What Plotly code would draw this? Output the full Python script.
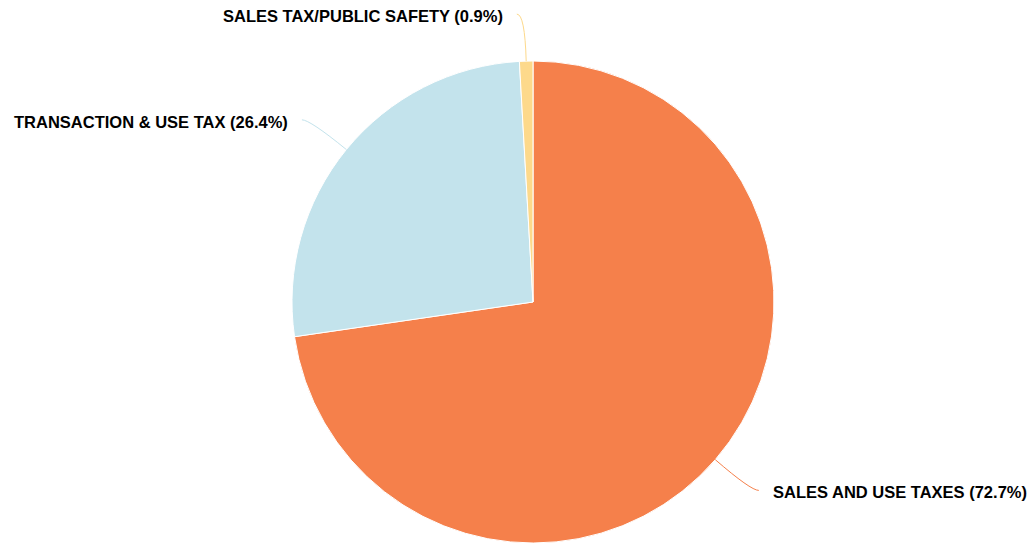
import math
import plotly.graph_objects as go

# Revenue shares by tax category
categories = ["SALES AND USE TAXES", "TRANSACTION & USE TAX", "SALES TAX/PUBLIC SAFETY"]
shares = [72.7, 26.4, 0.9]
colors = ["#F5804B", "#C3E3EC", "#FDD98B"]

W, H = 1034, 543
cx, cy, r = 533, 302, 241  # pie centre (px from top-left) and radius

fig = go.Figure(go.Pie(
    labels=categories,
    values=shares,
    sort=False,
    direction="clockwise",
    rotation=0,
    marker=dict(colors=colors, line=dict(color="#FFFFFF", width=1)),
    textinfo="none",
    hoverinfo="label+percent",
    domain=dict(x=[(cx - r) / W, (cx + r) / W], y=[(H - cy - r) / H, (H - cy + r) / H]),
    showlegend=False,
))

shapes, annotations = [], []
total = sum(shares)
start = 0.0
for name, val, col in zip(categories, shares, colors):
    mid = (start + val / 2) / total * 2 * math.pi  # clockwise from 12 o'clock
    start += val
    sx, sy = math.sin(mid), -math.cos(mid)
    ex, ey = cx + r * sx, cy + r * sy                # slice edge
    kx, ky = cx + (r + 47) * sx, cy + (r + 47) * sy  # elbow
    side = 1 if sx >= 0 else -1
    tx, ty = kx + 8 * side, ky
    shapes.append(dict(
        type="path", xref="paper", yref="paper",
        path=f"M {ex/W},{1-ey/H} Q {kx/W},{1-ky/H} {tx/W},{1-ty/H}",
        line=dict(color=col, width=1),
    ))
    annotations.append(dict(
        x=(tx + 12 * side) / W, y=1 - ty / H, xref="paper", yref="paper",
        xanchor="left" if side > 0 else "right", yanchor="middle", yshift=-2,
        text=f"<b>{name} ({val:.1f}%)</b>", showarrow=False,
        font=dict(family="Liberation Sans, Arial, sans-serif", size=16.5, color="#000000"),
    ))

fig.update_layout(
    width=W, height=H,
    margin=dict(l=0, r=0, t=0, b=0),
    paper_bgcolor="#FFFFFF", plot_bgcolor="#FFFFFF",
    shapes=shapes, annotations=annotations,
)

fig.write_html("out.html")
